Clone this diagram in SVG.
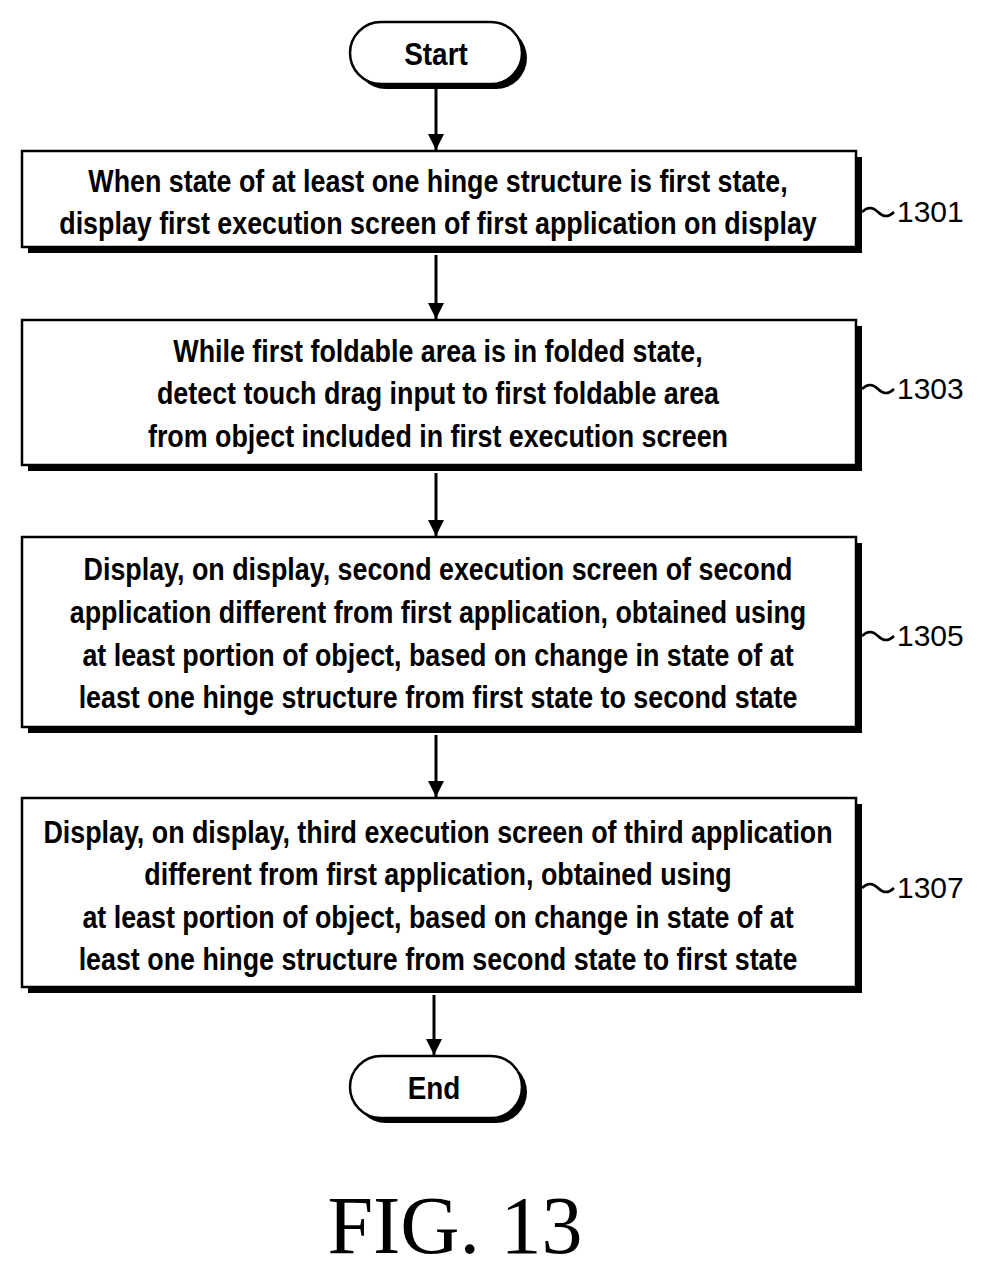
<svg xmlns="http://www.w3.org/2000/svg" width="982" height="1273" viewBox="0 0 982 1273">
<defs>
<style>
.b{fill:#fff;stroke:#000;stroke-width:2.5}
.s{fill:#000}
.t{font-family:"Liberation Sans",Arial,sans-serif;font-weight:bold;font-size:31px;text-anchor:middle}
.n{font-family:"Liberation Sans",Arial,sans-serif;font-size:30px}
.c{fill:none;stroke:#000;stroke-width:2.5}
</style>
<marker id="a" viewBox="0 0 10 10" refX="10" refY="5" markerWidth="16" markerHeight="16" markerUnits="userSpaceOnUse" orient="auto"><path d="M0,0 L10,5 L0,10 z"/></marker>
</defs>
<rect width="982" height="1273" fill="#fff"/>
<g id="start">
<rect x="355" y="27" width="172" height="62" rx="31" class="s"/>
<rect x="350" y="22" width="172" height="62" rx="31" class="b"/>
<text transform="translate(436,65) scale(0.9,1)" class="t">Start</text>
</g>
<g id="n1301">
<rect x="28" y="157" width="834" height="96" class="s"/>
<rect x="22" y="151" width="834" height="96" class="b"/>
<g transform="translate(438,0) scale(0.866,1)">
<text x="0" y="192" class="t">When state of at least one hinge structure is first state,</text>
<text x="0" y="234" class="t">display first execution screen of first application on display</text>
</g>
<path class="c" d="M862,212 q8,-8 16,0 t16,0"/>
<text x="897" y="222" class="n">1301</text>
</g>
<g id="n1303">
<rect x="28" y="326" width="834" height="145" class="s"/>
<rect x="22" y="320" width="834" height="145" class="b"/>
<g transform="translate(438,0) scale(0.866,1)">
<text x="0" y="362" class="t">While first foldable area is in folded state,</text>
<text x="0" y="404" class="t">detect touch drag input to first foldable area</text>
<text x="0" y="447" class="t">from object included in first execution screen</text>
</g>
<path class="c" d="M862,389 q8,-8 16,0 t16,0"/>
<text x="897" y="399" class="n">1303</text>
</g>
<g id="n1305">
<rect x="28" y="543" width="834" height="190" class="s"/>
<rect x="22" y="537" width="834" height="190" class="b"/>
<g transform="translate(438,0) scale(0.866,1)">
<text x="0" y="580" class="t">Display, on display, second execution screen of second</text>
<text x="0" y="623" class="t">application different from first application, obtained using</text>
<text x="0" y="666" class="t">at least portion of object, based on change in state of at</text>
<text x="0" y="708" class="t">least one hinge structure from first state to second state</text>
</g>
<path class="c" d="M862,636 q8,-8 16,0 t16,0"/>
<text x="897" y="646" class="n">1305</text>
</g>
<g id="n1307">
<rect x="28" y="804" width="834" height="189" class="s"/>
<rect x="22" y="798" width="834" height="189" class="b"/>
<g transform="translate(438,0) scale(0.866,1)">
<text x="0" y="843" class="t">Display, on display, third execution screen of third application</text>
<text x="0" y="885" class="t">different from first application, obtained using</text>
<text x="0" y="928" class="t">at least portion of object, based on change in state of at</text>
<text x="0" y="970" class="t">least one hinge structure from second state to first state</text>
</g>
<path class="c" d="M862,888 q8,-8 16,0 t16,0"/>
<text x="897" y="898" class="n">1307</text>
</g>
<g id="end">
<rect x="355" y="1061" width="172" height="62" rx="31" class="s"/>
<rect x="350" y="1056" width="172" height="62" rx="31" class="b"/>
<text transform="translate(434,1099) scale(0.9,1)" class="t">End</text>
</g>
<g id="connectors" stroke="#000" stroke-width="3" marker-end="url(#a)">
<line x1="436" y1="86" x2="436" y2="150"/>
<line x1="436" y1="255" x2="436" y2="319"/>
<line x1="436" y1="473" x2="436" y2="536"/>
<line x1="436" y1="735" x2="436" y2="797"/>
<line x1="434" y1="995" x2="434" y2="1055"/>
</g>
<text x="455" y="1253" font-family="Liberation Serif,serif" font-size="82" text-anchor="middle">FIG. 13</text>
</svg>
